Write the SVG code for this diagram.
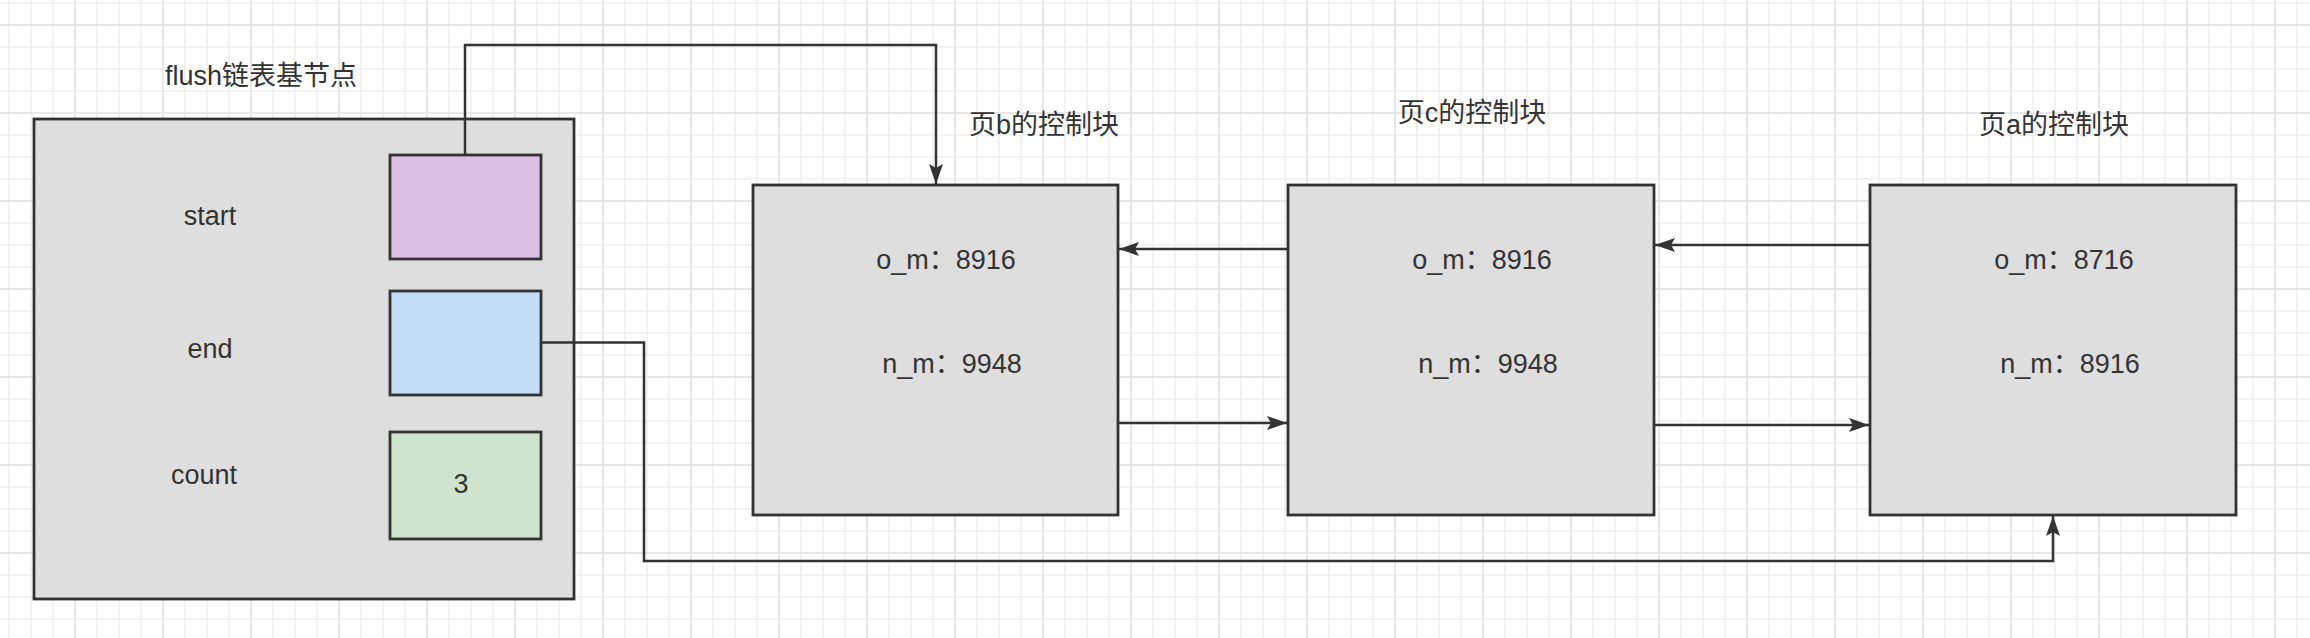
<svg xmlns="http://www.w3.org/2000/svg" width="2310" height="638" viewBox="0 0 2310 638">
  <defs>
    <pattern id="minor" patternUnits="userSpaceOnUse" x="-2" y="-8" width="22" height="22">
      <path d="M11,0 V22 M0,11 H22" stroke="#efefef" stroke-width="1.5" fill="none"/>
    </pattern>
    <pattern id="major" patternUnits="userSpaceOnUse" x="31" y="69" width="88" height="88">
      <path d="M44,0 V88 M0,44 H88" stroke="#e4e4e4" stroke-width="1.5" fill="none"/>
    </pattern>
    <marker id="arr" viewBox="0 0 22 16" refX="21" refY="8" markerWidth="22" markerHeight="16" orient="auto" markerUnits="userSpaceOnUse">
      <path d="M1,1 L21,8 L1,15 L5,8 Z" fill="#333333"/>
    </marker>
  </defs>
  <style>
    .box { fill: #dedede; stroke: #333333; stroke-width: 2.8; }
    .fld { stroke: #333333; stroke-width: 2.8; }
    .t { font-family: "Liberation Sans", "Noto Sans CJK SC", sans-serif; font-size: 27px; fill: #333333; text-anchor: middle; }
    .c { fill: none; stroke: #333333; stroke-width: 2.5; }
  </style>
  <rect width="2310" height="638" fill="#ffffff"/>
  <rect width="2310" height="638" fill="url(#minor)"/>
  <rect width="2310" height="638" fill="url(#major)"/>

  <g id="flush-base">
    <text class="t" x="261" y="85">flush链表基节点</text>
    <rect class="box" x="34" y="119" width="540" height="480"/>
    <text class="t" x="210" y="225">start</text>
    <text class="t" x="210" y="358">end</text>
    <text class="t" x="204" y="484">count</text>
  </g>
  <g id="field-start">
    <rect class="fld" x="390" y="155" width="151" height="104" fill="#dbbfe4"/>
  </g>
  <g id="field-end">
    <rect class="fld" x="390" y="291" width="151" height="104" fill="#c3ddf6"/>
  </g>
  <g id="field-count">
    <rect class="fld" x="390" y="432" width="151" height="107" fill="#cfe4cc"/>
    <text class="t" x="461" y="493">3</text>
  </g>

  <g id="page-b">
    <text class="t" x="1044" y="134">页b的控制块</text>
    <rect class="box" x="753" y="185" width="365" height="330"/>
    <text class="t" x="946" y="269">o_m：8916</text>
    <text class="t" x="952" y="373">n_m：9948</text>
  </g>
  <g id="page-c">
    <text class="t" x="1472" y="122">页c的控制块</text>
    <rect class="box" x="1288" y="185" width="366" height="330"/>
    <text class="t" x="1482" y="269">o_m：8916</text>
    <text class="t" x="1488" y="373">n_m：9948</text>
  </g>
  <g id="page-a">
    <text class="t" x="2054" y="134">页a的控制块</text>
    <rect class="box" x="1870" y="185" width="366" height="330"/>
    <text class="t" x="2064" y="269">o_m：8716</text>
    <text class="t" x="2070" y="373">n_m：8916</text>
  </g>

  <g id="connectors">
    <path class="c" d="M465,155 V45 H936 V184" marker-end="url(#arr)"/>
    <path class="c" d="M1288,249 H1119" marker-end="url(#arr)"/>
    <path class="c" d="M1118,423 H1287" marker-end="url(#arr)"/>
    <path class="c" d="M1870,245 H1655" marker-end="url(#arr)"/>
    <path class="c" d="M1654,425 H1869" marker-end="url(#arr)"/>
    <path class="c" d="M541,342.5 H644 V561 H2053 V516" marker-end="url(#arr)"/>
  </g>
</svg>
